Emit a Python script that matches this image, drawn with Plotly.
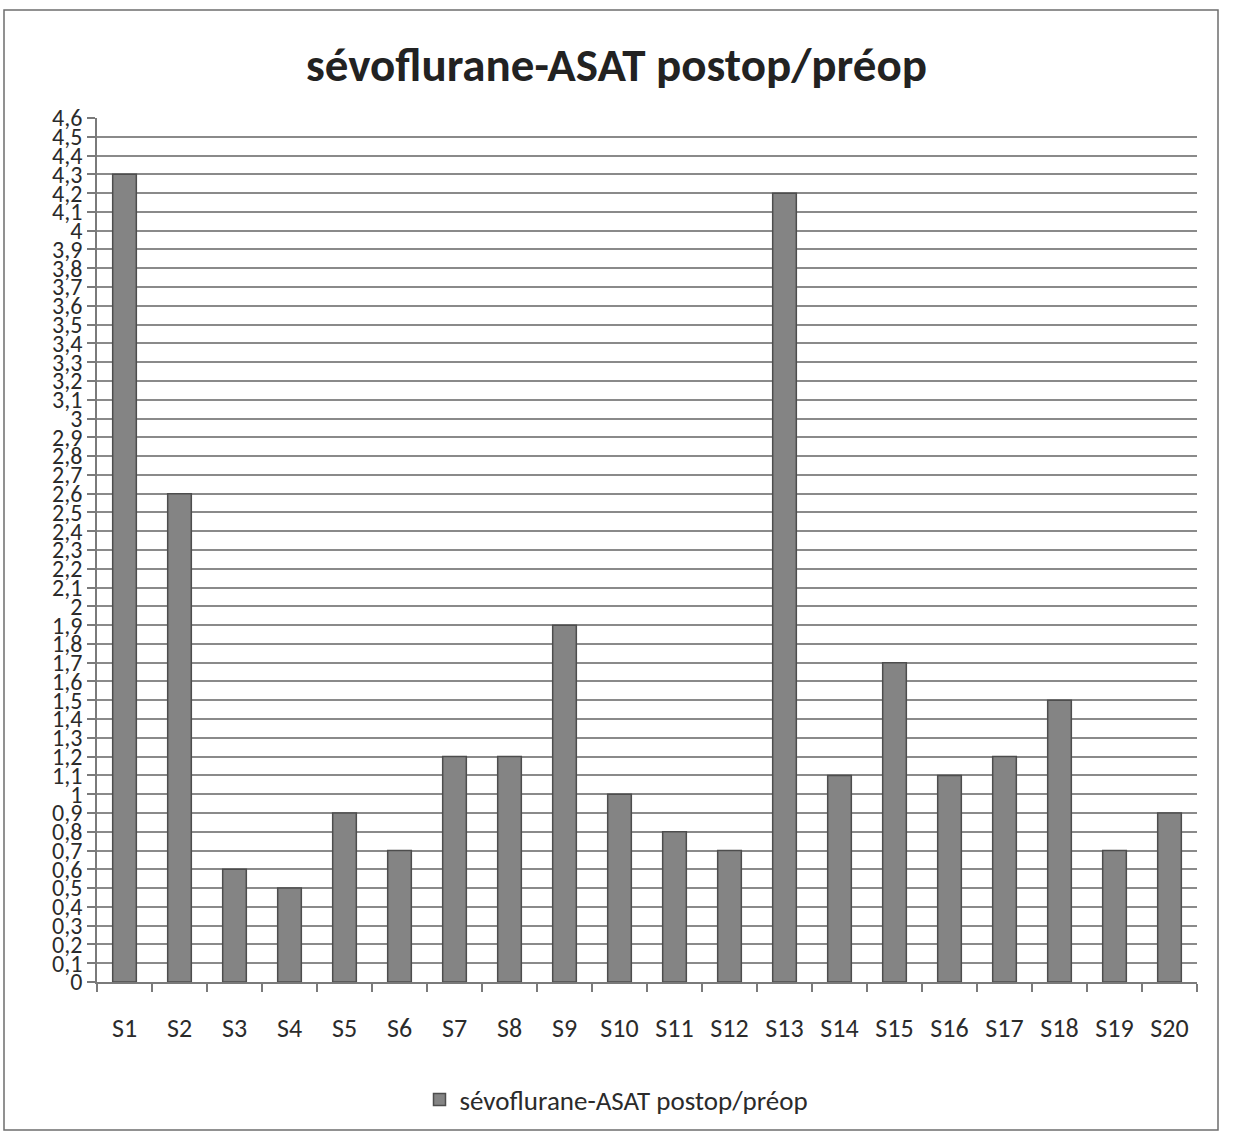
import plotly.graph_objects as go

# Ratio of postoperative to preoperative ASAT, sevoflurane group
subjects = [f"S{i}" for i in range(1, 21)]
ratios = [4.3, 2.6, 0.6, 0.5, 0.9, 0.7, 1.2, 1.2, 1.9, 1.0,
          0.8, 0.7, 4.2, 1.1, 1.7, 1.1, 1.2, 1.5, 0.7, 0.9]

# y-axis ticks every 0.1, written with a decimal comma
tick_values = [round(i * 0.1, 1) for i in range(0, 47)]
tick_labels = [(f"{v:g}").replace(".", ",") for v in tick_values]

series_name = "sévoflurane-ASAT postop/préop"
FONT = "Carlito, Lato, 'Open Sans', sans-serif"

W, H = 1233, 1139
L, R, T, B = 97, 36, 118, 157

fig = go.Figure()
fig.add_trace(go.Bar(
    x=subjects,
    y=ratios,
    name=series_name,
    marker=dict(color="#848484", line=dict(color="#4d4d4d", width=1.5)),
    showlegend=True,
))

# outer chart frame, placed in paper coordinates from the pixel margins
pw, ph = W - L - R, H - T - B
def px_to_paper_x(px):
    return (px - L) / pw
def px_to_paper_y(py):
    return (H - B - py) / ph

fig.add_shape(
    type="rect", xref="paper", yref="paper",
    x0=px_to_paper_x(4), x1=px_to_paper_x(1218),
    y0=px_to_paper_y(1130), y1=px_to_paper_y(10),
    line=dict(color="#6e6e6e", width=1.5), fillcolor="rgba(0,0,0,0)",
    layer="below",
)

fig.update_layout(
    width=W, height=H,
    margin=dict(l=L, r=R, t=T, b=B),
    paper_bgcolor="white",
    plot_bgcolor="white",
    bargap=0.57,
    font=dict(family=FONT, color="#2b2b2b"),
    title=dict(
        text="<b>" + series_name + "</b>",
        x=0.5, xref="container", xanchor="center",
        y=1 - 65 / H, yref="container", yanchor="middle",
        font=dict(size=47, family=FONT, color="#222222"),
    ),
    legend=dict(
        orientation="h",
        x=0.5, xref="container", xanchor="center",
        y=1 - 1100 / H, yref="container", yanchor="middle",
        font=dict(size=27, family=FONT, color="#2b2b2b"),
    ),
    xaxis=dict(
        type="category",
        showgrid=False,
        showline=True, linecolor="#7a7a7a", linewidth=1.5,
        ticks="outside", tickson="boundaries", ticklen=8,
        tickcolor="#7a7a7a", tickwidth=1.5,
        tickfont=dict(size=26, family=FONT, color="#2b2b2b"),
        ticklabelstandoff=22,
    ),
    yaxis=dict(
        range=[0, 4.6],
        tickvals=tick_values,
        ticktext=tick_labels,
        showgrid=True, gridcolor="#8a8a8a", gridwidth=1.5,
        showline=True, linecolor="#7a7a7a", linewidth=1.5,
        ticks="outside", ticklen=8, tickcolor="#7a7a7a", tickwidth=1.5,
        tickfont=dict(size=24, family=FONT, color="#2b2b2b"),
        zeroline=False,
    ),
)

fig.write_html("out.html")
